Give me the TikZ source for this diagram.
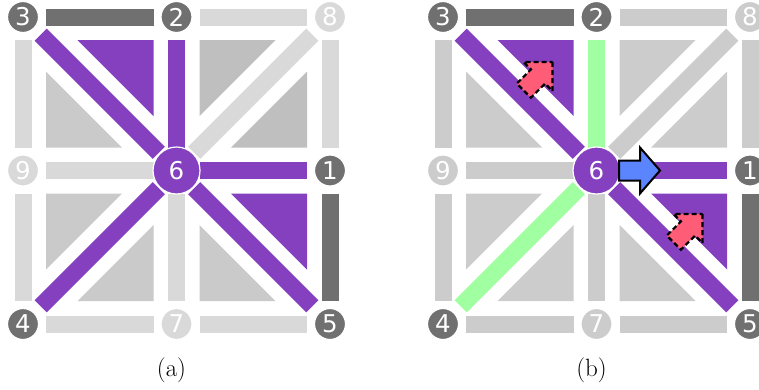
\documentclass[tikz,border=0pt]{standalone}
\usepackage{fontspec}
\newfontfamily\dejavu{DejaVu Sans}
\usetikzlibrary{backgrounds}
\definecolor{purp}{HTML}{8440BF}
\definecolor{dgray}{HTML}{707070}
\definecolor{lgrayA}{HTML}{D9D9D9}
\definecolor{triA}{HTML}{CACACA}
\definecolor{triAd}{HTML}{BFBFBF}
\definecolor{lgrayB}{HTML}{CCCCCC}
\definecolor{grn}{HTML}{A0FFA0}
\definecolor{pinkc}{HTML}{FF5C78}
\definecolor{bluc}{HTML}{5B84FF}
\newcommand\gridnodes[2]{%
  \node[vtx=dgray] (#1-3) at (23,17) {3};
  \node[vtx=dgray] (#1-2) at (176.5,17) {2};
  \node[vtx=#2] (#1-8) at (330,17) {8};
  \node[vtx=#2] (#1-9) at (23,170.5) {9};
  \node[hub] (#1-6) at (176.5,170.5) {6};
  \node[vtx=dgray] (#1-1) at (330,170.5) {1};
  \node[vtx=dgray] (#1-4) at (23,324) {4};
  \node[vtx=#2] (#1-7) at (176.5,324) {7};
  \node[vtx=dgray] (#1-5) at (330,324) {5};
}
\newcommand\tri[5]{\fill[#1] (#2,#3) -- ++(#4,0) -- (#2,#3+#5) -- cycle;}
\newcommand\pinkarrow[2]{%
  \begin{scope}[shift={(#1,#2)}]
    \draw[fill=pinkc,draw=black,line width=2.2pt,dash pattern=on 5pt off 3pt,line join=miter]
      (0,0) -- (0,29) -- (-7.4,21.6) -- (-21.6,35.7) -- (-35.7,21.6) -- (-21.6,7.4) -- (-29,0) -- cycle;
  \end{scope}}
\begin{document}
\begin{tikzpicture}[x=1pt,y=-1pt,
  vtx/.style={circle,draw=white,line width=1.2pt,fill=#1,minimum size=31pt,inner sep=0pt,
    text=white,font=\dejavu\fontsize{24.5}{26}\selectfont},
  hub/.style={vtx=purp,minimum size=47pt},
  edge/.style={line width=17pt,draw=#1,shorten <=23pt,shorten >=23pt},
  dedge/.style={line width=17pt,draw=#1,shorten <=25pt,shorten >=25pt},
  captext/.style={inner sep=0pt,font=\fontsize{25}{30}\selectfont}]
\useasboundingbox (0,0) rectangle (759,389);
\clip (0,0) rectangle (759,389);

% ---------- panel (a) ----------
\gridnodes{a}{lgrayA}
\begin{scope}[on background layer]
  \draw[edge=dgray] (a-3.center) -- (a-2.center);
  \draw[edge=lgrayA] (a-2.center) -- (a-8.center);
  \draw[edge=lgrayA] (a-3.center) -- (a-9.center);
  \draw[edge=lgrayA] (a-9.center) -- (a-4.center);
  \draw[edge=lgrayA] (a-4.center) -- (a-7.center);
  \draw[edge=lgrayA] (a-7.center) -- (a-5.center);
  \draw[edge=lgrayA] (a-8.center) -- (a-1.center);
  \draw[edge=dgray] (a-1.center) -- (a-5.center);
  \draw[edge=lgrayA] (a-9.center) -- (a-6.center);
  \draw[edge=purp] (a-6.center) -- (a-1.center);
  \draw[edge=purp] (a-2.center) -- (a-6.center);
  \draw[edge=lgrayA] (a-6.center) -- (a-7.center);
  \draw[dedge=purp] (a-3.center) -- (a-6.center);
  \draw[dedge=purp] (a-6.center) -- (a-5.center);
  \draw[dedge=purp] (a-6.center) -- (a-4.center);
  \draw[dedge=lgrayA] (a-6.center) -- (a-8.center);
  \tri{purp}{153.5}{40}{-76}{76}
  \tri{triA}{46}{147.5}{76}{-76}
  \tri{triAd}{199.5}{40}{76}{76}
  \tri{triAd}{307}{147.5}{-76}{-76}
  \tri{triA}{46}{193.5}{76}{76}
  \tri{triA}{153.5}{301}{-76}{-76}
  \tri{purp}{307}{193.5}{-76}{76}
  \tri{triA}{199.5}{301}{76}{-76}
\end{scope}
\node[captext] (capa) at (171.5,370) {(a)};

% ---------- panel (b) ----------
\begin{scope}[shift={(420,0)}]
\gridnodes{b}{lgrayB}
\begin{scope}[on background layer]
  \draw[edge=dgray] (b-3.center) -- (b-2.center);
  \draw[edge=lgrayB] (b-2.center) -- (b-8.center);
  \draw[edge=lgrayB] (b-3.center) -- (b-9.center);
  \draw[edge=lgrayB] (b-9.center) -- (b-4.center);
  \draw[edge=lgrayB] (b-4.center) -- (b-7.center);
  \draw[edge=lgrayB] (b-7.center) -- (b-5.center);
  \draw[edge=lgrayB] (b-8.center) -- (b-1.center);
  \draw[edge=dgray] (b-1.center) -- (b-5.center);
  \draw[edge=lgrayB] (b-9.center) -- (b-6.center);
  \draw[edge=purp] (b-6.center) -- (b-1.center);
  \draw[edge=grn] (b-2.center) -- (b-6.center);
  \draw[edge=lgrayB] (b-6.center) -- (b-7.center);
  \draw[dedge=purp] (b-3.center) -- (b-6.center);
  \draw[dedge=purp] (b-6.center) -- (b-5.center);
  \draw[dedge=grn] (b-6.center) -- (b-4.center);
  \draw[dedge=lgrayB] (b-6.center) -- (b-8.center);
  \tri{purp}{153.5}{40}{-76}{76}
  \tri{lgrayB}{46}{147.5}{76}{-76}
  \tri{lgrayB}{199.5}{40}{76}{76}
  \tri{lgrayB}{307}{147.5}{-76}{-76}
  \tri{lgrayB}{46}{193.5}{76}{76}
  \tri{lgrayB}{153.5}{301}{-76}{-76}
  \tri{purp}{307}{193.5}{-76}{76}
  \tri{lgrayB}{199.5}{301}{76}{-76}
  \pinkarrow{132.5}{62}
  \pinkarrow{282.5}{214}
\end{scope}
\draw[fill=bluc,draw=black,line width=2pt,line join=miter]
  (199,160.5) -- (220,160.5) -- (220,147.5) -- (240,170.5) -- (220,193.5) -- (220,180.5) -- (199,180.5) -- cycle;
\node[captext] (capb) at (171.5,370) {(b)};
\end{scope}
\end{tikzpicture}
\end{document}
